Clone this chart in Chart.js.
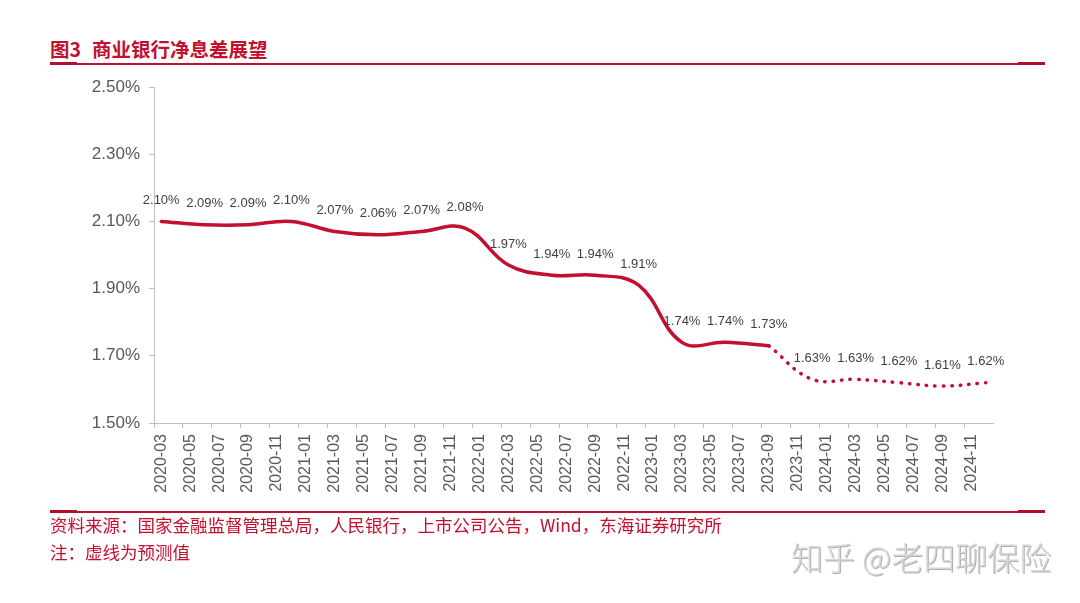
<!DOCTYPE html>
<html>
<head>
<meta charset="utf-8">
<script src="https://cdn.jsdelivr.net/npm/chart.js@4/dist/chart.umd.min.js"></script>
<style>
  body { margin: 0; background: #fff; }
  #wrap { position: relative; width: 1080px; height: 603px; overflow: hidden; }
  #myChart { position: absolute; left: 0; top: 0; }
  .red { color: #C3102F; font-family: "Noto Sans CJK SC", sans-serif; position: absolute; white-space: nowrap; }
  .title { left: 50px; top: 34px; font-size: 19.5px; font-weight: bold; }
  .title span { margin-left: 11px; }
  .src { left: 50px; top: 512px; font-size: 17.5px; }
  .note { left: 50px; top: 539px; font-size: 17.5px; }
  .rule { position: absolute; left: 50px; width: 995px; height: 2px; background: #C3102F; }
  .rule:before, .rule:after { content: ""; position: absolute; top: -1px; width: 27px; height: 3px; background: #B0102C; }
  .rule:before { left: 0; }
  .rule:after { right: 0; }
  .wm { position: absolute; left: 791px; top: 533px; font-size: 32px; color: #d6d6d6;
        font-family: "Noto Sans CJK SC", sans-serif; font-weight: 300;
        text-shadow: 1px 1px 0 #b0b0b0; white-space: nowrap; }
</style>
</head>
<body>
<div id="wrap">
  <div class="red title">图3<span>商业银行净息差展望</span></div>
  <div class="rule" style="top:63px"></div>
  <canvas id="myChart" width="1080" height="603"></canvas>
  <div class="rule" style="top:511px"></div>
  <div class="red src">资料来源：国家金融监督管理总局，人民银行，上市公司公告，Wind，东海证券研究所</div>
  <div class="red note">注：虚线为预测值</div>
  <div class="wm">知乎 @老四聊保险</div>
</div>
<script>
// axis months (one category per month)
var months = [
  '2020-03','2020-04','2020-05','2020-06','2020-07','2020-08','2020-09','2020-10','2020-11','2020-12',
  '2021-01','2021-02','2021-03','2021-04','2021-05','2021-06','2021-07','2021-08','2021-09','2021-10','2021-11','2021-12',
  '2022-01','2022-02','2022-03','2022-04','2022-05','2022-06','2022-07','2022-08','2022-09','2022-10','2022-11','2022-12',
  '2023-01','2023-02','2023-03','2023-04','2023-05','2023-06','2023-07','2023-08','2023-09','2023-10','2023-11','2023-12',
  '2024-01','2024-02','2024-03','2024-04','2024-05','2024-06','2024-07','2024-08','2024-09','2024-10','2024-11','2024-12'
];

// actual quarterly NIM (%)
var actualMonths = ['2020-03','2020-06','2020-09','2020-12','2021-03','2021-06','2021-09','2021-12',
                    '2022-03','2022-06','2022-09','2022-12','2023-03','2023-06','2023-09'];
var actualValues = [2.10, 2.09, 2.09, 2.10, 2.07, 2.06, 2.07, 2.08, 1.97, 1.94, 1.94, 1.91, 1.74, 1.74, 1.73];

// forecast (dotted)
var forecastMonths = ['2023-09','2023-12','2024-03','2024-06','2024-09','2024-12'];
var forecastValues = [1.73, 1.63, 1.63, 1.62, 1.61, 1.62];

var yTicks = [1.50, 1.70, 1.90, 2.10, 2.30, 2.50];

var red = '#C3102F';
var axisGray = '#BFBFBF';
var textGray = '#595959';

function toPoints(ms, vs) {
  return ms.map(function (m, i) { return { x: m, y: vs[i] }; });
}

// value labels above the points
var valueLabels = {
  id: 'valueLabels',
  afterDatasetsDraw: function (chart) {
    var ctx = chart.ctx;
    ctx.save();
    ctx.font = '13px "Liberation Sans", Arial, sans-serif';
    ctx.fillStyle = '#404040';
    ctx.textAlign = 'center';
    ctx.textBaseline = 'middle';
    chart.data.datasets.forEach(function (ds, di) {
      var meta = chart.getDatasetMeta(di);
      meta.data.forEach(function (pt, i) {
        if (di === 1 && i === 0) return; // 2023-09 already labelled
        ctx.fillText(ds.data[i].y.toFixed(2) + '%', pt.x, pt.y - 21);
      });
    });
    ctx.restore();
  }
};

var ctx = document.getElementById('myChart').getContext('2d');

new Chart(ctx, {
  type: 'line',
  data: {
    labels: months,
    datasets: [{
      data: toPoints(actualMonths, actualValues),
      borderColor: red,
      borderWidth: 3.5,
      tension: 0.4,
      pointRadius: 0,
      borderCapStyle: 'round',
      fill: false
    }, {
      data: toPoints(forecastMonths, forecastValues),
      borderColor: red,
      borderWidth: 3.5,
      borderDash: [0.5, 8],
      borderCapStyle: 'round',
      tension: 0.4,
      pointRadius: 0,
      fill: false
    }]
  },
  options: {
    responsive: false,
    animation: false,
    layout: { padding: { top: 87, right: 87, bottom: 0, left: 0 } },
    plugins: { legend: { display: false }, tooltip: { enabled: false } },
    scales: {
      x: {
        type: 'category',
        offset: true,
        afterFit: function (s) { s.height = 180; },
        border: { color: axisGray, width: 1 },
        grid: {
          offset: true,
          drawOnChartArea: false,
          tickLength: 5,
          color: function (c) { return c.index % 2 === 0 ? axisGray : 'rgba(0,0,0,0)'; }
        },
        ticks: {
          autoSkip: false,
          minRotation: 90,
          maxRotation: 90,
          padding: 6,
          color: textGray,
          font: { family: '"Liberation Sans", Arial, sans-serif', size: 16 },
          callback: function (v, i) { return i % 2 === 0 ? months[i] : ''; }
        }
      },
      y: {
        min: yTicks[0],
        max: yTicks[yTicks.length - 1],
        afterFit: function (s) { s.width = 154; },
        afterBuildTicks: function (s) { s.ticks = yTicks.map(function (v) { return { value: v }; }); },
        border: { color: axisGray, width: 1 },
        grid: { drawOnChartArea: false, tickLength: 5, color: axisGray },
        ticks: {
          padding: 9,
          color: textGray,
          font: { family: '"Liberation Sans", Arial, sans-serif', size: 17 },
          callback: function (v) { return v.toFixed(2) + '%'; }
        }
      }
    }
  },
  plugins: [valueLabels]
});
</script>
</body>
</html>
